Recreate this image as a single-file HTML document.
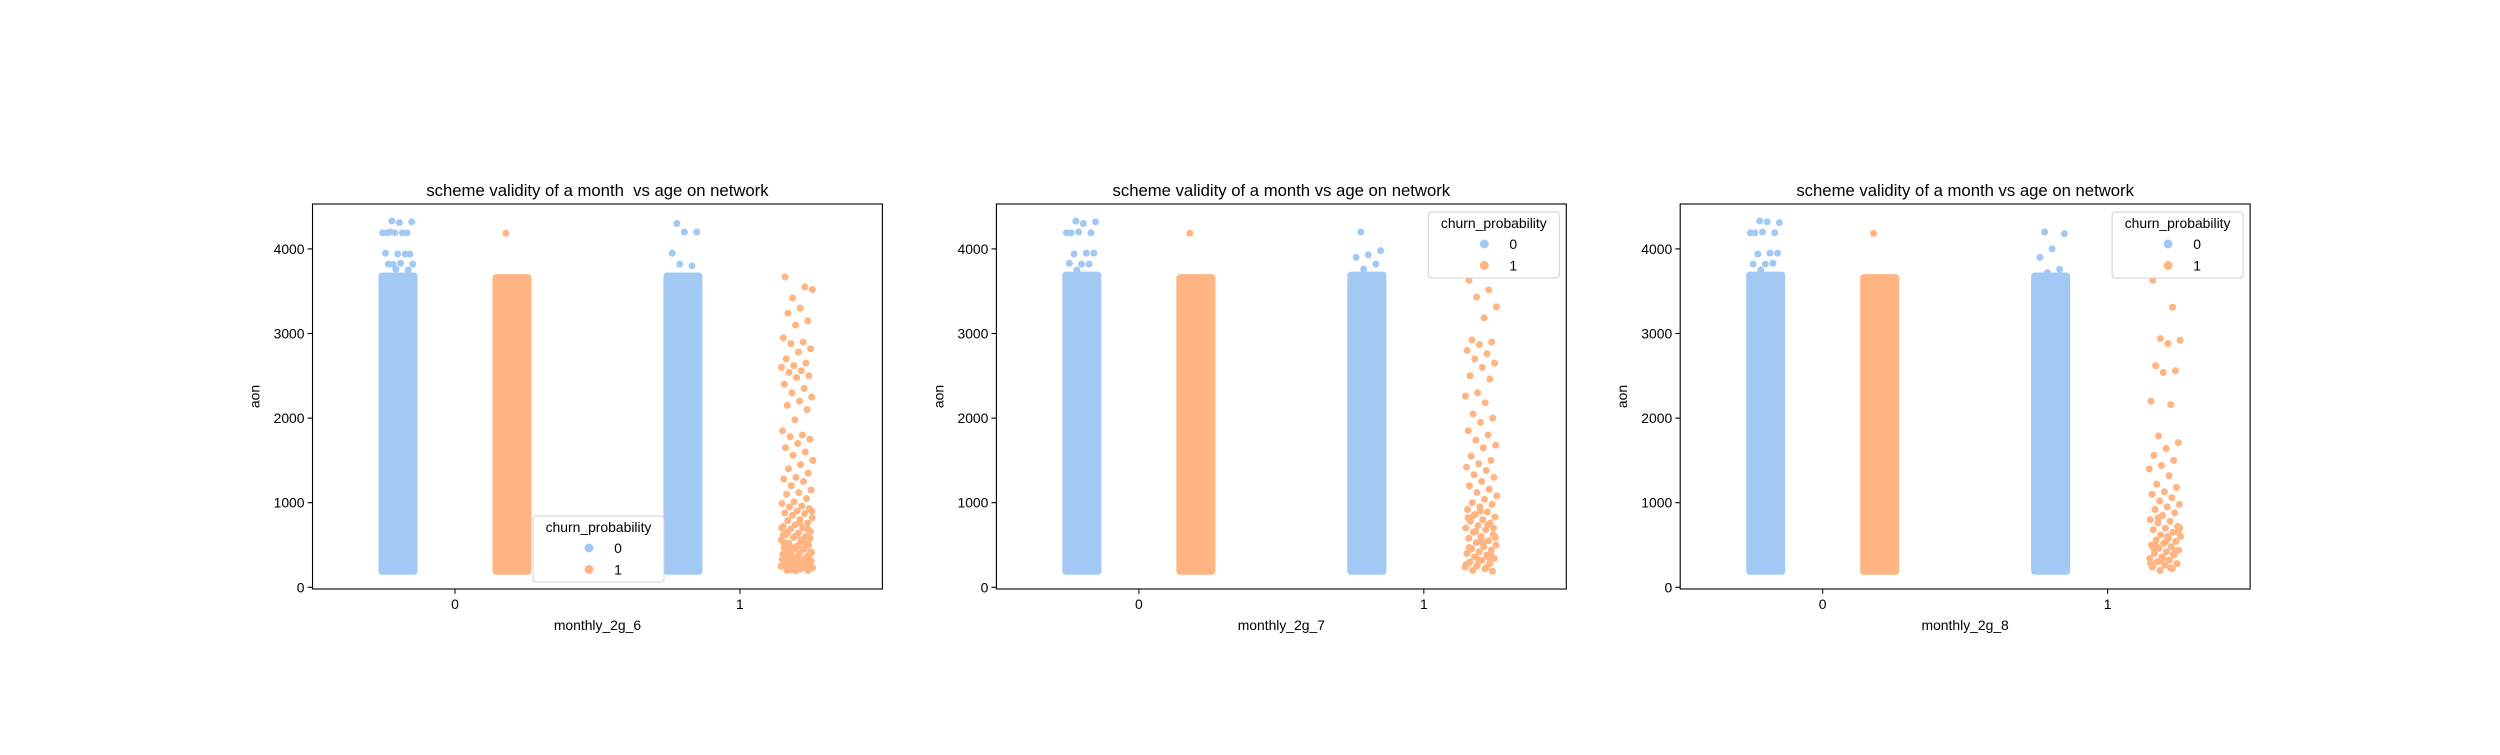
<!DOCTYPE html>
<html><head><meta charset="utf-8">
<style>
html,body{margin:0;padding:0;background:#fff;}
svg{display:block;font-family:"Liberation Sans","DejaVu Sans",sans-serif;}
</style></head>
<body>
<svg id="fig" width="2500" height="755" viewBox="0 0 2500 755" xmlns="http://www.w3.org/2000/svg"></svg>
<script>
// ---- data ----
const categories = ["0","1"];
const hues = ["0","1"];
const yTicks = [0,1000,2000,3000,4000];
const titles = ["scheme validity of a month  vs age on network","scheme validity of a month vs age on network","scheme validity of a month vs age on network"];
const xLabels = ["monthly_2g_6","monthly_2g_7","monthly_2g_8"];
// dense ranges [lo, hi] per chart: [cat0-hue0, cat0-hue1, cat1-hue0]
const denseRanges1 = [[190,3680],[190,3660],[190,3680]];
const denseRanges2 = [[190,3690],[190,3660],[190,3690]];
const denseRanges3 = [[190,3690],[190,3660],[190,3680]];
// outliers above dense part
const out1_c0h0 = [4330,4320,4310,4190,4190,4190,4190,4190,4200,3940,3940,3950,3940,3820,3820,3830,3820,3750,3760];
const out1_c0h1 = [4185];
const out1_c1h0 = [4300,4200,4200,3950,3800,3820];
const out2_c0h0 = [4330,4320,4300,4190,4190,4200,4190,3950,3940,3950,3820,3830,3820,3750];
const out2_c0h1 = [4185];
const out2_c1h0 = [4200,3980,3930,3900,3820,3760];
const out3_c0h0 = [4330,4310,4320,4190,4190,4200,4190,3950,3940,3950,3820,3820,3830,3750];
const out3_c0h1 = [4185];
const out3_c1h0 = [4200,4180,4000,3900,3760,3720];
// sparse strip (cat 1, churn 1)
const sparse1 = [3670,3550,3420,3520,3300,3240,3150,3100,2950,2900,2880,2820,2780,2700,2650,2620,2600,2560,2540,2500,2480,2400,2350,2300,2250,2200,2150,2100,1980,1850,1800,1780,1750,1700,1650,1600,1560,1500,1450,1400,1350,1300,1280,1250,1200,1150,1120,1100,1050,1010,990,960,950,930,900,880,870,850,820,800,790,760,740,720,700,690,660,640,620,600,590,560,540,520,500,480,470,450,430,410,400,380,360,350,330,310,300,290,270,260,250,240,230,220,210,200,195,620,540,470,420,350,300,260,220,700,560,440,380,330,280,240,210,900,760,650,510,460,390,320,270,580,490,410,340,290,250,215,205,680,610,530,450,370,310,230,200];
const sparse2 = [3630,3515,3430,3315,3185,2925,2900,2870,2800,2760,2700,2650,2600,2500,2460,2300,2260,2180,2050,2000,1950,1850,1800,1740,1680,1650,1550,1500,1460,1420,1380,1330,1300,1250,1200,1160,1120,1080,1040,1000,980,950,920,890,860,830,800,780,760,730,700,680,650,620,600,580,550,530,500,480,460,440,420,400,380,360,340,320,300,280,260,240,220,200,190,900,820,740,660,590,520,450,390,330,270,230,850,700,560,470,350,250];
const sparse3 = [3630,3310,2940,2920,2880,2620,2560,2540,2200,2160,1790,1710,1640,1560,1500,1440,1400,1320,1220,1180,1130,1100,1060,1020,980,950,920,880,850,800,780,760,720,700,680,650,620,600,580,560,540,520,500,480,460,440,420,400,380,360,340,320,300,280,260,240,220,200,700,600,500,420,350,280,230,820,650,540,460,390,310];

const BLUE = "#a1c9f4", ORANGE = "#ffb482";
const charts = [
  {x0:312.5, dense:denseRanges1, outs:[out1_c0h0,out1_c0h1,out1_c1h0], sparse:sparse1, legend:"lower"},
  {x0:996.4, dense:denseRanges2, outs:[out2_c0h0,out2_c0h1,out2_c1h0], sparse:sparse2, legend:"upper"},
  {x0:1680.2, dense:denseRanges3, outs:[out3_c0h0,out3_c0h1,out3_c1h0], sparse:sparse3, legend:"upper"}
];
const AX_W = 569.9, AX_TOP = 204, AX_BOT = 589;
const Y0 = 587.3, YPX = 0.0846;
const R = 3.5, JW = 16;

const NS = "http://www.w3.org/2000/svg";
const fig = document.getElementById("fig");
function mk(tag, attrs, parent){ const e=document.createElementNS(NS,tag); for(const k in attrs) e.setAttribute(k,attrs[k]); (parent||fig).appendChild(e); return e; }
function yS(v){ return Y0 - v*YPX; }

charts.forEach((c, ci) => {
  const g = mk("g", {});
  
  
  const xS = v => c.x0 + (v + 0.5) * AX_W / 2;
  const hueOff = h => (h === 0 ? -0.2 : 0.2);
  const strips = [[0,0],[0,1],[1,0]];
  strips.forEach((s, si) => {
    const cx = xS(s[0] + hueOff(s[1]));
    const col = s[1] === 0 ? BLUE : ORANGE;
    const lo = c.dense[si][0], hi = c.dense[si][1];
    const r = mk("rect", {x:cx-JW-R, y:yS(hi)-R, width:2*(JW+R), height:yS(lo)-yS(hi)+2*R, rx:R, fill:col}, g);
    
    
    c.outs[si].forEach((v, i) => {
      const j = ((i * 0.618034 + 0.31) % 1 - 0.5) * 2 * JW;
      const p = mk("circle", {cx:cx+j, cy:yS(v), r:R, fill:col}, g);
      
      
    });
  });
  const scx = xS(1 + 0.2);
  c.sparse.forEach((v, i) => {
    const j = ((i * 0.618034 + 0.13) % 1 - 0.5) * 2 * JW;
    const p = mk("circle", {cx:scx+j, cy:yS(v), r:R, fill:ORANGE}, g);
    
    
  });
  const fr = mk("rect", {x:c.x0, y:AX_TOP, width:AX_W, height:AX_BOT-AX_TOP, fill:"none", stroke:"#000", "stroke-width":1.1}, g);
  
  
  yTicks.forEach(t => {
    const y = yS(t);
    mk("line", {x1:c.x0-4.9, x2:c.x0, y1:y, y2:y, stroke:"#000", "stroke-width":1.1}, g);
    const tx = mk("text", {x:c.x0-8, y:y+5, "text-anchor":"end", "font-size":"13.9px", fill:"#000"}, g);
    tx.textContent = t;
    
    
  });
  categories.forEach((cat, k) => {
    const x = xS(k);
    mk("line", {x1:x, x2:x, y1:AX_BOT, y2:AX_BOT+4.9}, g).setAttribute("stroke","#000");
    const tx = mk("text", {x:x, y:AX_BOT+20, "text-anchor":"middle", "font-size":"13.9px", fill:"#000"}, g);
    tx.textContent = cat;
    
    
  });
  const xl = mk("text", {x:c.x0+AX_W/2, y:AX_BOT+41, "text-anchor":"middle", "font-size":"13.9px", fill:"#000"}, g);
  xl.textContent = xLabels[ci];
  
  
  const ylx = c.x0 - 53, yly = (AX_TOP+AX_BOT)/2;
  const yl = mk("text", {x:ylx, y:yly, "text-anchor":"middle", "font-size":"13.9px", fill:"#000", transform:`rotate(-90 ${ylx} ${yly})`}, g);
  yl.textContent = "aon";
  
  
  const tt = mk("text", {x:c.x0+AX_W/2, y:AX_TOP-8, "text-anchor":"middle", "font-size":"16.7px", fill:"#000"}, g);
  tt.setAttribute("style","white-space:pre");
  tt.textContent = titles[ci];
  
  
  let bx, by;
  if (c.legend === "lower") { bx = c.x0 + 220.5; by = 516; } else { bx = c.x0 + AX_W - 138; by = 212; }
  const lg = mk("g", {}, g);
  
  
  mk("rect", {x:bx, y:by, width:131, height:66, rx:3, fill:"#fff", "fill-opacity":0.8, stroke:"#d0d0d0"}, lg);
  const lt = mk("text", {x:bx+65.5, y:by+16, "text-anchor":"middle", "font-size":"13.9px", fill:"#000"}, lg);
  lt.textContent = "churn_probability";
  
  
  hues.forEach((h, k) => {
    const ry = by + 32 + k*21.5;
    const e = mk("g", {}, lg);
    
    
    mk("circle", {cx:bx+56, cy:ry, r:4.5, fill:k===0?BLUE:ORANGE}, e);
    const lx = mk("text", {x:bx+85, y:ry+5, "text-anchor":"middle", "font-size":"13.9px", fill:"#000"}, e);
    lx.textContent = h;
  });
});
</script>
</body></html>
